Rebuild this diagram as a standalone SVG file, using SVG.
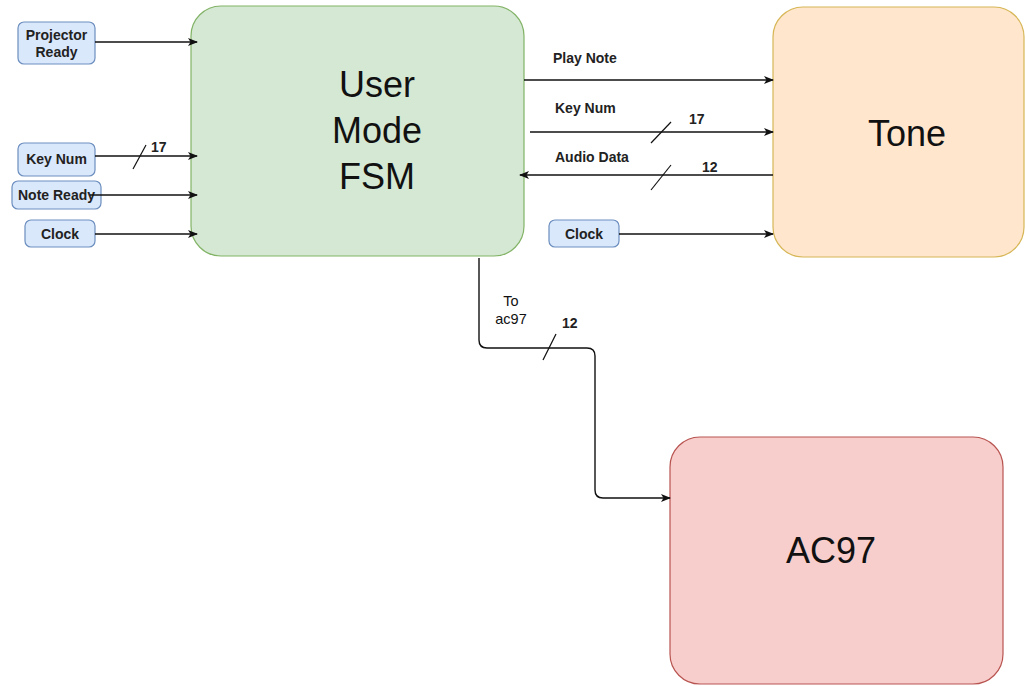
<svg xmlns="http://www.w3.org/2000/svg" width="1025" height="686" viewBox="0 0 1025 686">
  <style>
    .sig { fill: #dae8fc; stroke: #6c8ebf; stroke-width: 1.2; }
    .lbl { font-family: "Liberation Sans", Arial, sans-serif; font-size: 14px; font-weight: bold; fill: #222; }
    .reg { font-family: "Liberation Sans", Arial, sans-serif; font-size: 14.5px; fill: #111; text-anchor: middle; }
    .big { font-family: "Liberation Sans", Arial, sans-serif; font-size: 36px; fill: #111; text-anchor: middle; }
    .wire { fill: none; stroke: #111; stroke-width: 1.4; }
    .tick { stroke: #111; stroke-width: 1.2; }
    .c { text-anchor: middle; }
  </style>
  <defs>
    <marker id="arr" viewBox="0 0 10 10" refX="9" refY="5" markerWidth="10" markerHeight="10" markerUnits="userSpaceOnUse" orient="auto">
      <path d="M0,1 L10,5 L0,9 L2.5,5 Z" fill="#111"/>
    </marker>
  </defs>
  <rect width="1025" height="686" fill="#ffffff"/>

  <!-- main blocks -->
  <g id="fsm">
    <rect x="191" y="6" width="333" height="250" rx="30" fill="#d5e8d4" stroke="#82b366" stroke-width="1.2"/>
    <text class="big" x="377" y="97">User</text>
    <text class="big" x="377" y="143">Mode</text>
    <text class="big" x="377" y="189">FSM</text>
  </g>
  <g id="tone">
    <rect x="773" y="7" width="251" height="250" rx="30" fill="#ffe6cc" stroke="#d6b656" stroke-width="1.2"/>
    <text class="big" x="907" y="146">Tone</text>
  </g>
  <g id="ac97">
    <rect x="670" y="437" width="333" height="247" rx="30" fill="#f8cecc" stroke="#b85450" stroke-width="1.2"/>
    <text class="big" x="831" y="563">AC97</text>
  </g>

  <!-- input signal boxes -->
  <g id="projector-ready">
    <rect class="sig" x="18" y="22" width="77" height="42" rx="6"/>
    <text class="lbl c" x="56.5" y="40">Projector</text>
    <text class="lbl c" x="56.5" y="57">Ready</text>
  </g>
  <g id="key-num-in">
    <rect class="sig" x="18" y="143" width="77" height="33" rx="6"/>
    <text class="lbl c" x="56.5" y="164">Key Num</text>
  </g>
  <g id="note-ready">
    <rect class="sig" x="12" y="181" width="89" height="28" rx="6"/>
    <text class="lbl c" x="56.5" y="200">Note Ready</text>
  </g>
  <g id="clock-fsm">
    <rect class="sig" x="25" y="220" width="70" height="27" rx="6"/>
    <text class="lbl c" x="60" y="239">Clock</text>
  </g>
  <g id="clock-tone">
    <rect class="sig" x="549" y="220" width="70" height="27" rx="6"/>
    <text class="lbl c" x="584" y="239">Clock</text>
  </g>

  <!-- connectors -->
  <g id="connectors">
    <line class="wire" x1="95" y1="42" x2="197" y2="42" marker-end="url(#arr)"/>
    <line class="wire" x1="95" y1="156" x2="197" y2="156" marker-end="url(#arr)"/>
    <line class="tick" x1="133" y1="169" x2="146" y2="145"/>
    <text class="lbl" x="151" y="152">17</text>
    <line class="wire" x1="90" y1="195" x2="197" y2="195" marker-end="url(#arr)"/>
    <line class="wire" x1="95" y1="234" x2="197" y2="234" marker-end="url(#arr)"/>

    <line class="wire" x1="524" y1="80" x2="773" y2="80" marker-end="url(#arr)"/>
    <text class="lbl" x="553" y="63">Play Note</text>

    <line class="wire" x1="530" y1="132" x2="773" y2="132" marker-end="url(#arr)"/>
    <line class="tick" x1="651" y1="143" x2="671" y2="122"/>
    <text class="lbl" x="555" y="113">Key Num</text>
    <text class="lbl" x="689" y="124">17</text>

    <line class="wire" x1="773" y1="175" x2="520" y2="175" marker-end="url(#arr)"/>
    <line class="tick" x1="651" y1="190" x2="671" y2="165"/>
    <text class="lbl" x="555" y="162">Audio Data</text>
    <text class="lbl" x="702" y="172">12</text>

    <line class="wire" x1="619" y1="234" x2="773" y2="234" marker-end="url(#arr)"/>

    <path class="wire" d="M479,258 V340 Q479,348 487,348 H587 Q595,348 595,356 V490 Q595,498 603,498 H670" marker-end="url(#arr)"/>
    <line class="tick" x1="543" y1="360" x2="556" y2="334"/>
    <text class="reg" x="511" y="306">To</text>
    <text class="reg" x="511" y="324">ac97</text>
    <text class="lbl" x="562" y="328">12</text>
  </g>
</svg>
